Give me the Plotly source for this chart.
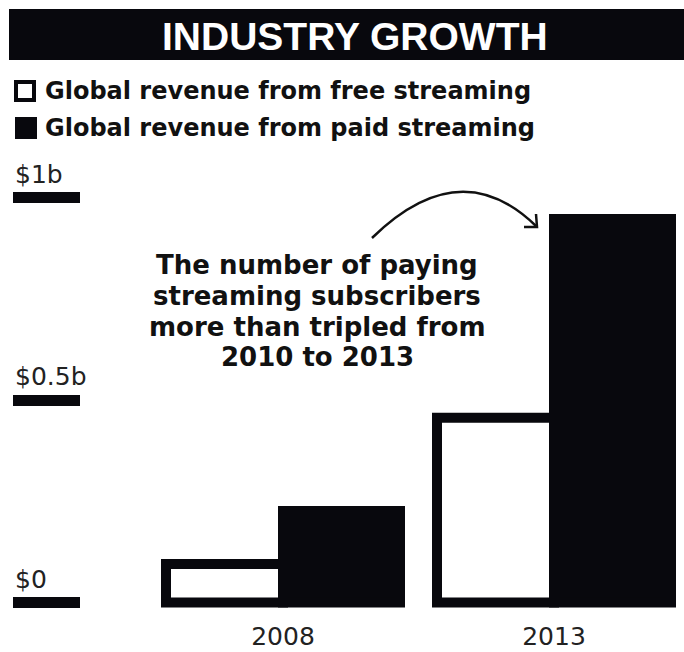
import plotly.graph_objects as go

# ---- data -------------------------------------------------------------
years = ["2008", "2013"]
free_revenue = [0.095, 0.456]   # $ billions
paid_revenue = [0.226, 0.947]   # $ billions
series_names = ["Global revenue from free streaming",
                "Global revenue from paid streaming"]
tick_values = [0, 0.5, 1]
tick_labels = ["$0", "$0.5b", "$1b"]
title_text = "INDUSTRY GROWTH"
note_lines = ["The number of paying",
              "streaming subscribers",
              "more than tripled from",
              "2010 to 2013"]

# ---- page geometry helpers ---------------------------------------------
W, H = 684, 652
INK = "#08080d"


def px(x):
    return x / W


def py(y):
    return 1 - y / H


# plot area in page pixels
PL, PR, PT, PB = 13, 684, 150, 619
ZERO_Y, PX_PER_B = 602.5, 405.0      # y scale: $0 line and pixels per $1b
CAT0_X, CAT_STEP = 283.0, 271.0      # x scale: first category centre, spacing
BAR_W = 117.0 / CAT_STEP

y_range = [(ZERO_Y - PB) / PX_PER_B, (ZERO_Y - PT) / PX_PER_B]
x_range = [(PL - CAT0_X) / CAT_STEP, (PR - CAT0_X) / CAT_STEP]

fig = go.Figure()

fig.add_trace(go.Bar(
    x=years, y=free_revenue, name=series_names[0],
    width=BAR_W, offset=-BAR_W,
    marker=dict(color="white", line=dict(color=INK, width=10)),
    showlegend=False, hoverinfo="skip",
))
fig.add_trace(go.Bar(
    x=years, y=paid_revenue, name=series_names[1],
    width=BAR_W, offset=0,
    marker=dict(color=INK, line=dict(color=INK, width=10)),
    showlegend=False, hoverinfo="skip",
))

shapes = []
annotations = []

# title band
shapes.append(dict(type="rect", xref="paper", yref="paper",
                   x0=px(9), x1=1, y0=py(60), y1=py(9),
                   fillcolor=INK, line=dict(width=0), layer="below"))
annotations.append(dict(text=title_text, xref="paper", yref="paper",
                        x=px(355), y=py(36.5), xanchor="center", yanchor="middle",
                        showarrow=False,
                        font=dict(family="Liberation Sans", size=39,
                                  color="white", weight="bold")))

# legend keys
shapes.append(dict(type="rect", xref="paper", yref="paper",
                   x0=px(16), x1=px(34), y0=py(100), y1=py(82),
                   fillcolor="white", line=dict(color=INK, width=4)))
shapes.append(dict(type="rect", xref="paper", yref="paper",
                   x0=px(15), x1=px(37), y0=py(139), y1=py(117),
                   fillcolor=INK, line=dict(width=0)))
for name, yc in zip(series_names, [91, 128]):
    annotations.append(dict(text=name, xref="paper", yref="paper",
                            x=px(43), y=py(yc), xanchor="left", yanchor="middle",
                            showarrow=False,
                            font=dict(family="DejaVu Sans", size=24,
                                      color="#111111", weight="bold")))

# y tick labels sit above their tick bars
for v, lab in zip(tick_values, tick_labels):
    annotations.append(dict(text=lab, xref="paper", yref="y",
                            x=px(PL), y=v, xanchor="left", yanchor="bottom",
                            yshift=7, showarrow=False,
                            font=dict(family="DejaVu Sans", size=25,
                                      color="#222222")))

# explanatory note
for line, yc in zip(note_lines, [265, 295.5, 327, 357]):
    annotations.append(dict(text=line, xref="paper", yref="paper",
                            x=px(317), y=py(yc), xanchor="center", yanchor="middle",
                            showarrow=False,
                            font=dict(family="DejaVu Sans", size=26,
                                      color="#111111", weight="bold")))

# curved pointer from the note to the 2013 paid bar
curve = (f"M {px(372)},{py(238)} Q {px(460)},{py(152)} {px(536)},{py(226)}")
head = (f"M {px(524)},{py(227)} L {px(537)},{py(227)} L {px(536)},{py(214)}")
for p in (curve, head):
    shapes.append(dict(type="path", xref="paper", yref="paper", path=p,
                       line=dict(color="#111111", width=2.5)))

fig.update_layout(
    width=W, height=H,
    margin=dict(l=0, r=0, t=0, b=0, pad=0),
    paper_bgcolor="white", plot_bgcolor="white",
    barmode="overlay",
    shapes=shapes, annotations=annotations,
    xaxis=dict(type="category", domain=[px(PL), 1], range=x_range,
               showgrid=False, zeroline=False, showline=False, ticks="",
               tickfont=dict(family="DejaVu Sans", size=25, color="#222222"),
               automargin=False, fixedrange=True),
    yaxis=dict(domain=[py(PB), py(PT)], range=y_range,
               tickvals=tick_values, ticks="inside", ticklen=67, tickwidth=11,
               tickcolor=INK, showticklabels=False,
               showgrid=False, zeroline=False, showline=False,
               automargin=False, fixedrange=True),
)

fig.write_html("out.html")
